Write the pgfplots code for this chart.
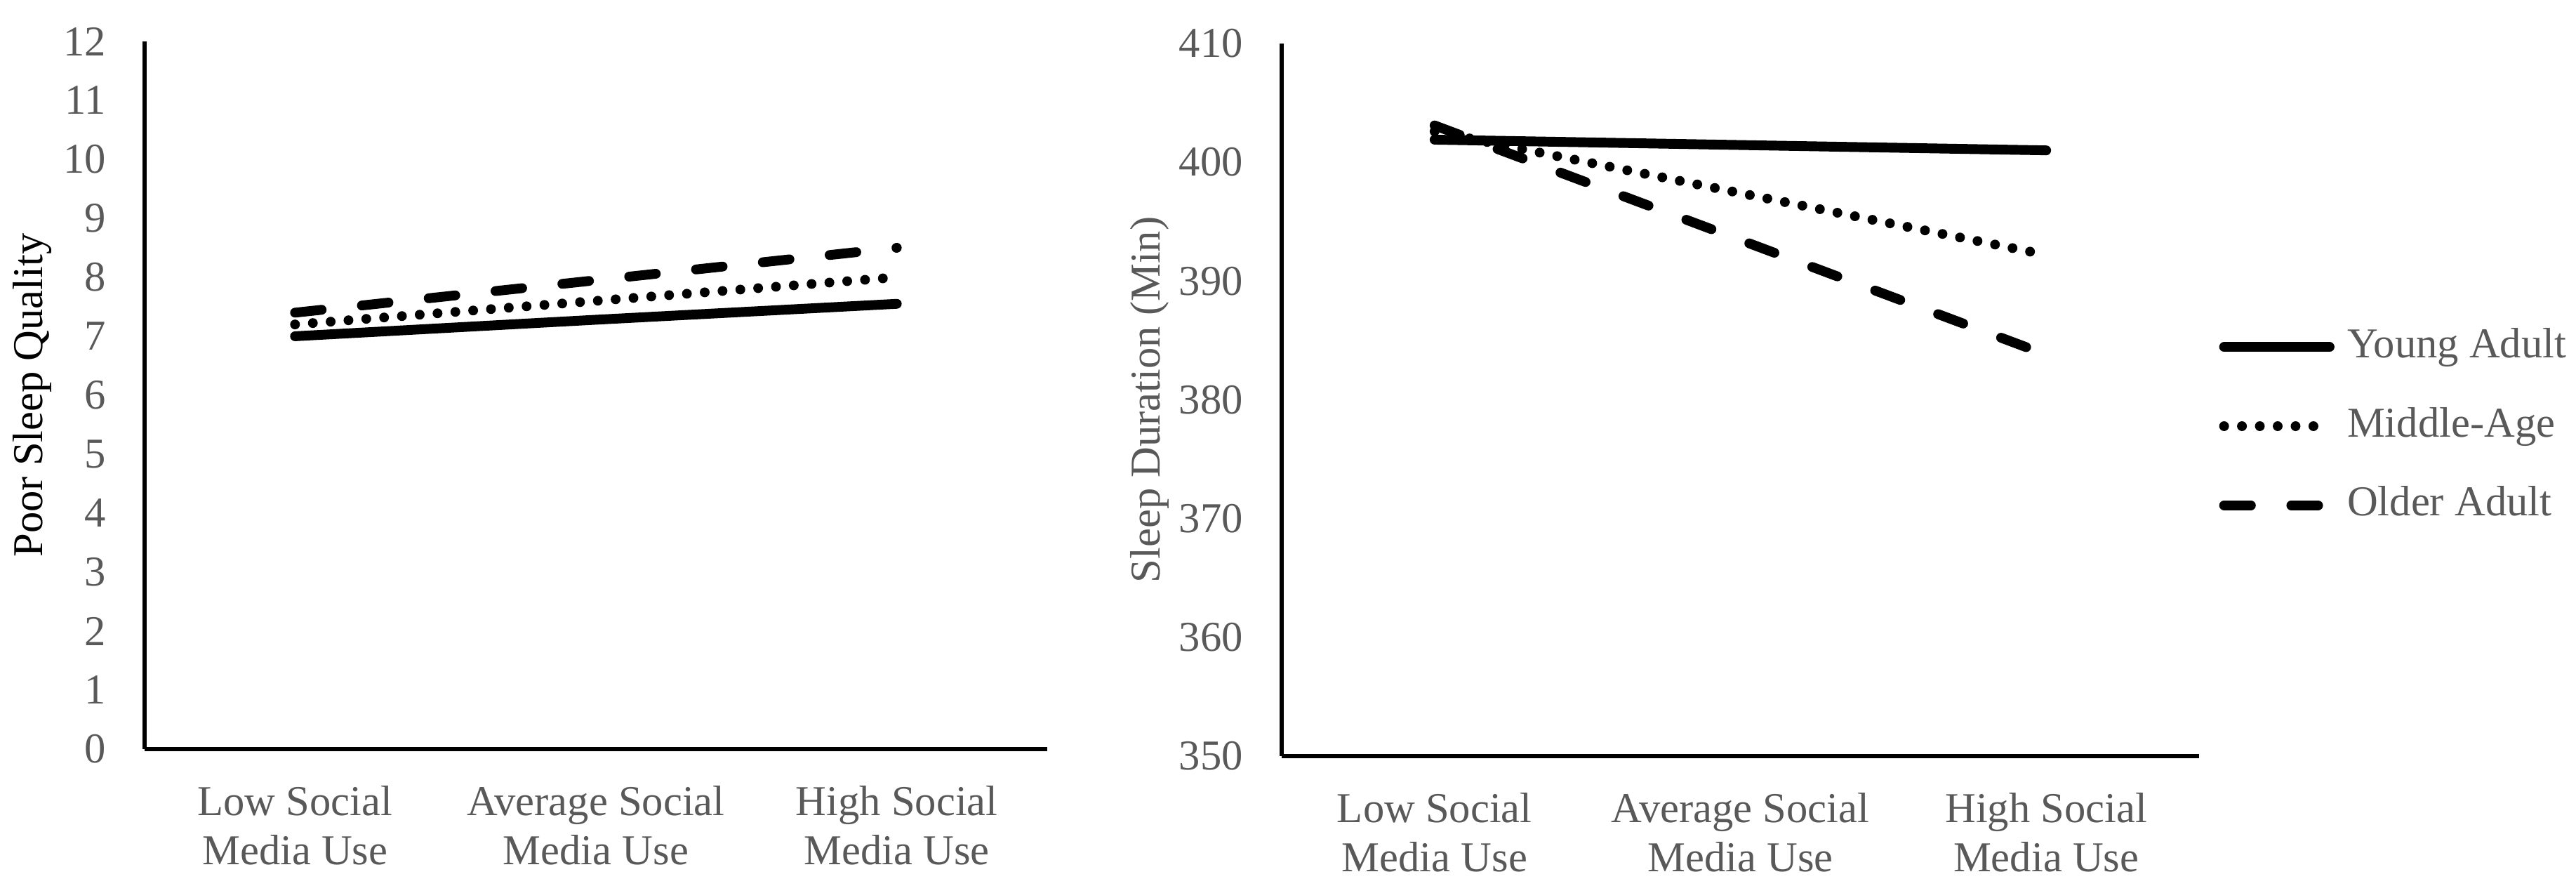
\documentclass[border=0pt]{standalone}
\usepackage{fontspec}
\setmainfont{Liberation Serif}
\usepackage{pgfplots}
\pgfplotsset{compat=1.18}
\definecolor{tickgray}{HTML}{595959}
\pgfplotsset{
  mystyle/.style={
    scale only axis,
    axis x line=bottom, axis y line=left,
    axis line style={-, line width=0.94pt, black},
    xmin=-0.5, xmax=2.5, xtick={0,1,2},
    xticklabels={{Low Social\\Media Use},{Average Social\\Media Use},{High Social\\Media Use}},
    major tick length=0pt,
    tick label style={text=tickgray, font=\fontsize{10}{11.5}\selectfont},
    xticklabel style={align=center, yshift=-5.2pt},
    yticklabel style={xshift=-5.6pt},
    /pgf/number format/assume math mode=true,
    clip=false,
    label style={font=\fontsize{10}{12}\selectfont},
  },
  solidline/.style={black, line width=2.3pt, line cap=round},
  dotline/.style={black, line width=2.3pt, line cap=round, dash pattern=on 0pt off 4.2pt},
  dashline/.style={black, line width=2.3pt, line cap=round, dash pattern=on 6.3pt off 9.5pt},
}
\begin{document}
\begin{tikzpicture}
\useasboundingbox (0,0) rectangle (605.55pt,208.23pt);
\begin{axis}[mystyle,
  at={(33.99pt,32.18pt)}, anchor=south west,
  width=212.19pt, height=166.32pt,
  ymin=0, ymax=12, ytick={0,1,...,12},
  ylabel={Poor Sleep Quality},
  ylabel style={at={(axis description cs:-0.1244,0.5)}, anchor=center, rotate=0},
]
\addplot[solidline] coordinates {(0,7.0) (1,7.28) (2,7.55)};
\addplot[dotline] coordinates {(0,7.2) (1,7.6) (2,8.0)};
\addplot[dashline] coordinates {(0,7.4) (1,7.95) (2,8.5)};
\end{axis}
\begin{axis}[mystyle,
  at={(301.29pt,30.53pt)}, anchor=south west,
  width=215.66pt, height=167.48pt,
  ymin=350, ymax=410, ytick={350,360,...,410},
  ylabel={\textcolor{tickgray}{Sleep Duration (Min)}},
  ylabel style={at={(axis description cs:-0.1437,0.5)}, anchor=center},
  legend image code/.code={\draw[#1] (1.2pt,0pt) -- (26pt,0pt);},
  legend cell align=left,
  legend style={at={(axis description cs:1.021,0.463)}, anchor=west,
    draw=none, fill=none, inner sep=0pt, row sep=9.6pt,
    nodes={inner ysep=0pt, inner xsep=3pt, text height=7pt, text depth=2pt, text=tickgray,
      font=\fontsize{10}{12}\selectfont}},
]
\addplot[solidline] coordinates {(0,401.9) (1,401.45) (2,401.0)};
\addlegendentry{Young Adult}
\addplot[dotline] coordinates {(0,402.6) (1,397.4) (2,392.2)};
\addlegendentry{Middle-Age}
\addplot[dashline] coordinates {(0,403.1) (1,393.45) (2,383.8)};
\addlegendentry{Older Adult}
\end{axis}
\end{tikzpicture}
\end{document}
